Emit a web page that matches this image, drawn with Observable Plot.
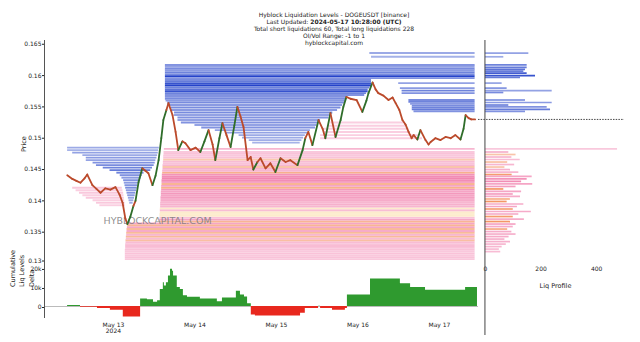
<!DOCTYPE html>
<html><head><meta charset="utf-8">
<script src="https://cdn.jsdelivr.net/npm/d3@7"></script>
<script src="https://cdn.jsdelivr.net/npm/@observablehq/plot@0.6"></script>
<style>
body{margin:0;background:#fff;}
#wrap{position:relative;width:640px;height:342px;overflow:hidden;font-family:"DejaVu Sans",sans-serif;}
#wrap > svg{position:absolute;left:0;top:0;}
.title{position:absolute;left:184px;width:300px;top:11px;text-align:center;font-size:6px;line-height:7.1px;color:#222;white-space:nowrap;}
</style></head><body><div id="wrap"><div class="title" id="title"></div></div>
<script>
// ---- text ----
const titleLines = [
  "Hyblock Liquidation Levels - DOGEUSDT [binance]",
  "Last Updated: <b>2024-05-17 10:28:00 (UTC)</b>",
  "Total short liquidations 60, Total long liquidations 228",
  "OI/Vol Range: -1 to 1",
  "hyblockcapital.com"
];
const priceTicks = [0.135, 0.14, 0.145, 0.15, 0.155, 0.16, 0.165];
const priceBottomTick = [0.13];
const deltaTicks = [0, 10, 20];
const profileTicks = [0, 200, 400];
const dayTickLabels = ["May 13\n2024", "May 14", "May 15", "May 16", "May 17"];
const dayTickDays = [13, 14, 15, 16, 17];

// ---- price (hours since 2024-05-13 00:00 UTC) ----
const priceHours = [-13.6,-12.1,-10.9,-9.7,-8.5,-7.7,-6.2,-5.0,-3.8,-2.4,-0.9,0.6,1.8,2.7,3.5,4.1,5.0,5.9,6.5,7.4,8.5,9.4,10.3,11.5,12.4,13.3,14.1,14.7,15.6,16.2,17.4,18.3,19.1,20.3,21.2,22.7,24.2,25.6,26.8,28.0,29.2,30.0,31.2,32.1,33.3,34.5,35.6,36.5,37.4,38.3,39.5,40.4,41.2,42.4,43.3,44.8,46.2,47.7,49.2,50.7,52.1,54.2,55.7,56.5,57.4,58.6,60.4,61.6,62.4,63.9,65.4,66.9,67.7,68.6,69.8,71.6,73.3,74.5,75.1,76.3,77.2,78.0,79.5,81.0,82.2,83.1,84.2,85.1,86.0,86.9,87.8,88.4,89.5,90.4,91.9,92.8,93.4,94.8,96.3,97.8,99.3,100.7,102.2,103.1,103.7,104.6,105.4,106.5];
const priceValues = [0.1441,0.1435,0.1432,0.1429,0.1436,0.1442,0.1425,0.1419,0.1413,0.1420,0.1418,0.1422,0.1410,0.1397,0.1372,0.1363,0.1375,0.1392,0.1400,0.1430,0.1452,0.1448,0.1444,0.1425,0.1440,0.1465,0.1500,0.1529,0.1545,0.1556,0.1537,0.1510,0.1481,0.1495,0.1492,0.1481,0.1485,0.1478,0.1495,0.1513,0.1490,0.1465,0.1500,0.1524,0.1505,0.1486,0.1520,0.1550,0.1535,0.1518,0.1465,0.1470,0.1450,0.1462,0.1468,0.1452,0.1460,0.1446,0.1468,0.1462,0.1465,0.1457,0.1481,0.1500,0.1510,0.1489,0.1529,0.1515,0.1500,0.1540,0.1502,0.1529,0.1550,0.1566,0.1563,0.1561,0.1542,0.1560,0.1572,0.1589,0.1578,0.1572,0.1568,0.1561,0.1565,0.1556,0.1545,0.1529,0.1522,0.1510,0.1500,0.1505,0.1498,0.1513,0.1497,0.1490,0.1494,0.1500,0.1497,0.1502,0.1500,0.1505,0.1498,0.1515,0.1537,0.1532,0.1530,0.1530];

// ---- cumulative liq levels delta (thousands), step values ----
const deltaHours = [-13.5,-9.7,-4.7,-0.9,2.9,8.0,10.0,11.8,13.0,13.8,14.7,15.0,15.6,16.2,16.8,17.4,17.7,18.8,19.7,20.6,21.8,25.6,30.6,32.1,36.2,37.4,38.6,39.5,40.6,41.8,55.1,56.5,60.4,61.0,64.5,68.3,68.9,75.7,84.5,87.5,91.9,103.7,107.2];
const deltaValues = [0.5,-0.4,-1.0,-2.0,-5.5,4.0,3.6,2.2,3.0,9.0,12.5,10.8,12.5,16.0,19.6,18.5,16.0,10.0,9.0,5.6,4.8,4.0,2.5,4.5,8.0,6.0,5.0,1.5,-4.5,-5.0,-3.5,-1.0,0.2,-1.0,-2.0,-1.0,6.0,14.5,12.0,10.0,8.5,10.0,10.0];

// ---- short liquidation levels: [price, startHour, endHour, intensity] ----
const END = 106.5;
const shortLevels = [
 [0.1485,-13.5,13.5,.3],[0.1481,-13.5,13.3,.25],[0.1477,-12,13.2,.35],[0.1473,-9,13,.3],
 [0.1469,-8,12.8,.4],[0.1465,-8,12.5,.35],[0.1461,-6,12.3,.45],[0.1457,-5,12,.5],
 [0.1453,-3,11.5,.55],[0.1449,-1,11,.6],[0.1445,1,9,.55],[0.1441,2,8.5,.45],
 [0.1437,2.5,8.2,.4],[0.1433,3,8,.45],[0.1429,3.2,7.6,.4],[0.1425,3.4,7.2,.45],
 [0.1421,3.6,7,.5],[0.1417,3.8,6.8,.4],[0.1413,4,6.6,.45],[0.1409,4.2,6.4,.4],[0.1405,4.4,6.2,.35],
 [0.1401,4.6,6,.3],[0.1397,4.8,5.8,.3],
 [0.1636,75.5,END,.3],[0.1630,76,END,.25],
 [0.1617,15.3,END,.45],[0.1614,15.3,END,.35],[0.1611,15.3,END,.5],[0.1608,15.3,END,.4],
 [0.1605,15.3,END,.55],[0.1602,15.3,END,.5],[0.1599,15.3,END,.95],[0.1596,15.3,END,.45],
 [0.1593,15.3,76,.5],[0.1590,15.3,76,.6],[0.1587,15.3,76,.85],[0.1584,15.3,76,.95],
 [0.1581,15.3,75.5,.55],[0.1578,15.3,75,.65],[0.1575,15.3,75,.85],[0.1572,15.3,74.5,.55],
 [0.1569,15.3,74,.45],[0.1566,15.3,68.6,.45],[0.1563,15.3,68.4,.5],
 [0.1560,15.5,68.3,.4],[0.1557,16,68,.5],[0.1553,16,67.5,.4],[0.1549,17,67,.5],
 [0.1545,17,66,.4],[0.1541,18,64.6,.5],[0.1537,18,64,.35],[0.1533,19,63.5,.45],
 [0.1529,19,61,.35],[0.1525,20,60.5,.45],[0.1521,24,60,.35],[0.1517,26,59.5,.45],
 [0.1513,30,58,.35],[0.1509,33,57.4,.35],[0.1505,37,56.5,.3],[0.1501,38,56,.3],
 [0.1497,40,55.5,.28],[0.1493,41,55,.25],
 [0.1588,84,END,.35],[0.1580,84.5,END,.4],[0.1576,85,END,.55],[0.1572,85,END,.45],
 [0.1561,87,END,.5],[0.1558,87,END,.55],[0.1555,87.5,END,.4],[0.1552,88,END,.5],
 [0.1549,88,END,.55],[0.1546,88,END,.6],[0.1543,88.5,END,.45]
];
// ---- long liquidation levels: [price, startHour, endHour, intensity, kind]  p pink, o salmon, y cream ----
const longLevels = [
 [0.1421,-12,2.6,.25,"p"],[0.1417,-11,2.8,.2,"p"],[0.1413,-10,3,.25,"p"],[0.1409,-9,3.1,.2,"p"],
 [0.1405,-8,3.2,.25,"p"],[0.1401,-6,3.3,.2,"p"],[0.1397,-5,3.4,.25,"p"],[0.1393,-4,3.5,.2,"p"],
 [0.1307,3.5,END,.25,"p"],[0.1310,3.5,END,.3,"p"],[0.1313,3.5,END,.25,"p"],[0.1316,3.5,END,.3,"p"],
 [0.1319,3.5,END,.25,"p"],[0.1322,3.5,END,.3,"p"],[0.1325,3.6,END,.3,"p"],[0.1328,3.6,END,.35,"p"],
 [0.1331,3.6,END,.3,"p"],[0.1334,3.7,END,.35,"p"],[0.1337,3.7,END,.4,"o"],[0.1340,3.8,END,.35,"p"],
 [0.1343,3.8,END,.45,"o"],[0.1346,3.9,END,.4,"p"],[0.1349,3.9,END,.45,"o"],[0.1352,4,END,.5,"p"],
 [0.1355,4,END,.45,"o"],[0.1358,4.1,END,.55,"p"],[0.1361,4.2,END,.5,"o"],[0.1364,4.3,END,.55,"p"],
 [0.1367,13.6,END,.5,"o"],[0.1370,13.6,END,.55,"p"],[0.1373,13.7,END,.3,"p"],[0.1376,13.7,END,.45,"y"],
 [0.1379,13.7,END,.4,"y"],[0.1382,13.8,END,.45,"y"],[0.1385,13.8,END,.35,"p"],[0.1388,13.8,END,.45,"y"],
 [0.1391,13.9,END,.4,"p"],[0.1394,13.9,END,.45,"p"],[0.1397,13.9,END,.4,"p"],[0.1400,14,END,.5,"p"],
 [0.1403,14,END,.45,"p"],[0.1406,14,END,.6,"p"],[0.1409,14.1,END,.55,"p"],[0.1412,14.1,END,.65,"p"],
 [0.1415,14.1,END,.55,"p"],[0.1418,14.2,END,.65,"p"],[0.1421,14.2,END,.55,"o"],[0.1424,14.2,END,.55,"p"],
 [0.1427,14.3,END,.5,"o"],[0.1430,14.3,END,.55,"p"],[0.1433,14.3,END,.75,"p"],[0.1436,14.4,END,.8,"p"],
 [0.1439,14.4,END,.75,"p"],[0.1442,14.4,END,.7,"p"],[0.1445,14.5,END,.55,"o"],
 [0.1448,14.5,END,.4,"p"],[0.1451,14.6,END,.45,"p"],[0.1454,14.6,END,.35,"o"],[0.1457,14.6,END,.4,"p"],
 [0.1460,14.7,END,.3,"p"],[0.1463,14.7,END,.35,"p"],[0.1466,14.8,END,.3,"o"],[0.1469,14.8,END,.3,"p"],
 [0.1472,14.8,END,.25,"p"],[0.1475,14.9,END,.3,"p"],[0.1478,14.9,END,.25,"p"],[0.1483,15,END,.4,"p"],
 [0.1500,61,91,.2,"p"],[0.1505,61,90,.2,"p"],[0.1510,62,87.5,.2,"p"],[0.1515,62,87,.2,"p"],
 [0.1520,63,86,.2,"p"],[0.1525,64,85.5,.2,"p"]
];

// ---- liq profile: [price, amount, intensity(, kind)] ----
const profileShort = [
 [0.1636,156,.35],[0.1630,66,.3],[0.1617,150,.55],[0.1613,150,.6],[0.1610,144,.65],[0.1607,138,.6],
 [0.1604,150,.8],[0.1600,180,.85],[0.1597,126,.6],[0.1588,60,.35],[0.1580,78,.45],[0.1576,240,.35],
 [0.1573,66,.5],[0.1561,144,.55],[0.1557,240,.4],[0.1553,84,.55],[0.1550,222,.45],[0.1546,234,.6],[0.1543,144,.45]
];
const profileLong = [
 [0.1483,475,.25,"p"],[0.1478,84,.45,"p"],[0.1474,110,.35,"o"],[0.1470,95,.4,"p"],[0.1466,125,.35,"p"],
 [0.1462,80,.4,"o"],[0.1458,105,.4,"p"],[0.1454,70,.35,"o"],[0.1450,90,.45,"p"],[0.1446,120,.4,"p"],
 [0.1442,96,.75,"o"],[0.1439,168,.55,"p"],[0.1435,150,.7,"p"],[0.1431,130,.75,"p"],[0.1427,170,.55,"p"],
 [0.1423,110,.6,"p"],[0.1419,66,.8,"o"],[0.1415,130,.55,"p"],[0.1411,100,.6,"p"],[0.1407,126,.5,"p"],
 [0.1403,90,.55,"o"],[0.1399,78,.8,"o"],[0.1395,138,.5,"p"],[0.1391,115,.55,"p"],[0.1387,100,.7,"o"],
 [0.1383,165,.5,"p"],[0.1379,120,.55,"p"],[0.1375,100,.75,"o"],[0.1371,140,.5,"p"],[0.1367,90,.8,"o"],
 [0.1363,110,.55,"p"],[0.1359,100,.5,"p"],[0.1355,80,.6,"o"],[0.1351,95,.5,"p"],[0.1347,110,.45,"p"],
 [0.1343,85,.5,"p"],[0.1339,70,.45,"p"],[0.1335,90,.45,"p"],[0.1331,75,.4,"p"],[0.1327,60,.4,"p"],
 [0.1323,50,.35,"p"],[0.1319,55,.35,"p"]
];

// ---- build ----
document.getElementById("title").innerHTML = titleLines.join("<br>");
const t0 = Date.UTC(2024, 4, 13);
const H = h => new Date(t0 + h * 3600e3);
const ramps = {
  s: d3.interpolateRgb("#d3daf3", "#1c3bc8"),
  p: d3.interpolateRgb("#fde6ef", "#ee6fa2"),
  o: d3.interpolateRgb("#fde8dc", "#f2824a"),
  y: d3.interpolateRgb("#fffaf0", "#f8d9a0")
};
const levelRows = [
  ...longLevels.map(([p, s, e, w, k]) => ({price: p, start: H(s), end: H(e), color: ramps[k](w)})),
  ...shortLevels.map(([p, s, e, w]) => ({price: p, start: H(s), end: H(e), color: ramps.s(w)}))
];
const profRows = [
  ...profileLong.map(([p, a, w, k]) => ({price: p, amount: a, color: ramps[k](w)})),
  ...profileShort.map(([p, a, w]) => ({price: p, amount: a, color: ramps.s(w)}))
];
const priceRows = priceHours.map((h, i) => ({date: H(h), price: priceValues[i]}));
const segs = d3.pairs(priceRows).map(([a, b]) => ({a, b, up: b.price - a.price > 0.0012}));
const lastPrice = priceValues[priceValues.length - 1];
const deltaRows = deltaHours.map((h, i) => ({date: H(h), v: deltaValues[i]}));
const dayTicks = dayTickDays.map(d => new Date(Date.UTC(2024, 4, d)));

const xDomain = [H(-20.3), H(107.5)];
const yDomain = [0.13, 0.1656];
const baseStyle = {fontFamily: "DejaVu Sans", fontSize: "6px", color: "#222", background: "transparent", overflow: "visible"};
const priceFmt = d => String(+d.toFixed(3));
const wrap = document.getElementById("wrap");

const main = Plot.plot({
  width: 640, height: 270, marginLeft: 44, marginRight: 162, marginTop: 40, marginBottom: 7,
  style: baseStyle,
  x: {type: "utc", domain: xDomain, axis: null},
  y: {domain: yDomain, axis: null},
  marks: [
    Plot.ruleY(levelRows, {y: "price", x1: "start", x2: "end", stroke: "color", strokeWidth: 1.9}),
    Plot.text(["HYBLOCKCAPITAL.COM"], {frameAnchor: "bottom-left", textAnchor: "start", dx: 59, dy: -40, fontSize: 9.5, fill: "#7a7a7a", fillOpacity: 0.85}),
    Plot.link(segs, {x1: d => d.a.date, y1: d => d.a.price, x2: d => d.b.date, y2: d => d.b.price,
      stroke: d => d.up ? "#2f6d2a" : "#bb4a2b", strokeWidth: 1.8, strokeLinecap: "round"}),
    Plot.ruleX([xDomain[0]], {stroke: "#555", strokeWidth: 1}),
    Plot.axisY({ticks: priceTicks, tickFormat: priceFmt, tickSize: 2, tickPadding: 1, label: null}),
    Plot.axisY({ticks: priceBottomTick, tickFormat: priceFmt, tickSize: 2, tickPadding: 1, dy: -2.5, label: null}),
    Plot.text(["Price"], {frameAnchor: "left", dx: -21, rotate: -90, fontSize: 6.5})
  ]
});
wrap.appendChild(main);

const bottom = Plot.plot({
  width: 640, height: 92, marginLeft: 44, marginRight: 162, marginTop: 5, marginBottom: 24,
  style: baseStyle,
  x: {type: "utc", domain: xDomain},
  y: {domain: [-6.3, 26.8]},
  marks: [
    Plot.ruleY([0], {stroke: "#aaa", strokeWidth: 0.8}),
    Plot.areaY(deltaRows, {x: "date", y1: 0, y2: d => Math.max(0, d.v), fill: "#2f9a2f", curve: "step-after"}),
    Plot.areaY(deltaRows, {x: "date", y1: 0, y2: d => Math.min(0, d.v), fill: "#e8281e", curve: "step-after"}),
    Plot.ruleX([xDomain[0]], {stroke: "#555", strokeWidth: 1}),
    Plot.axisX({ticks: dayTicks, tickFormat: d => dayTickLabels[dayTickDays.indexOf(d.getUTCDate())], tickSize: 0, tickPadding: 4, label: null}),
    Plot.axisY({ticks: deltaTicks, tickFormat: d => d ? d + "k" : "0", tickSize: 2, tickPadding: 1, dy: 1, label: null}),
    Plot.text(["Cumulative\nLiq Levels\nDelta"], {frameAnchor: "left", dx: -23, rotate: -90, fontSize: 6.5, lineHeight: 1.4})
  ]
});
bottom.style.top = "250px";
wrap.appendChild(bottom);

const prof = Plot.plot({
  width: 640, height: 342, marginLeft: 478, marginRight: 16, marginTop: 40, marginBottom: 79,
  style: baseStyle,
  x: {domain: [-25, 500], axis: null},
  y: {domain: yDomain, axis: null},
  marks: [
    Plot.ruleY(profRows, {y: "price", x1: 0, x2: "amount", stroke: "color", strokeWidth: 1.7}),
    Plot.ruleY([lastPrice], {stroke: "#333", strokeDasharray: "1.5,1.2", strokeWidth: 0.9}),
    Plot.axisX({ticks: profileTicks, tickSize: 0, tickPadding: 3, label: null}),
    Plot.text(["Liq Profile"], {frameAnchor: "bottom", dx: 4, dy: 24, fontSize: 6.5})
  ]
});
wrap.appendChild(prof);
const px = prof.scale("x").apply(0);
d3.select(prof).append("line").attr("x1", px).attr("x2", px)
  .attr("y1", prof.scale("y").apply(yDomain[1])).attr("y2", 335).attr("stroke", "#444").attr("stroke-width", 1);
</script></body></html>
